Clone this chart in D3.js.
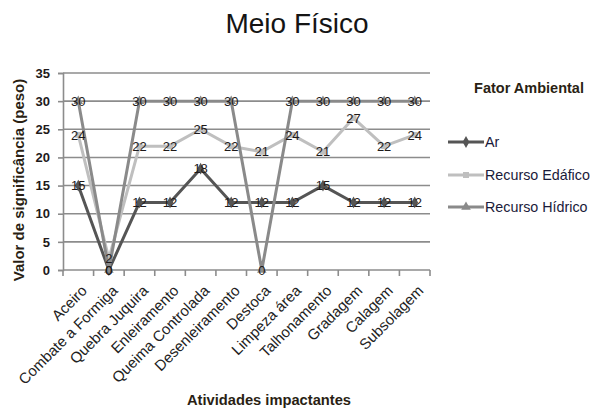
<!DOCTYPE html>
<html>
<head>
<meta charset="utf-8">
<script src="https://cdn.jsdelivr.net/npm/d3@7"></script>
<style>
  body { margin: 0; background: #fff; }
  svg { display: block; font-family: "Liberation Sans", Arial, sans-serif; }
</style>
</head>
<body>
<svg id="chart" width="595" height="409"></svg>
<script>
// Atividades avaliadas
const categories = ["Aceiro", "Combate a Formiga", "Quebra Juquira", "Enleiramento",
  "Queima Controlada", "Desenleiramento", "Destoca", "Limpeza área",
  "Talhonamento", "Gradagem", "Calagem", "Subsolagem"];

// Valor de significância por fator ambiental
const ar =            [15, 0, 12, 12, 18, 12, 12, 12, 15, 12, 12, 12];
const recursoEdafico = [24, 2, 22, 22, 25, 22, 21, 24, 21, 27, 22, 24];
const recursoHidrico = [30, 0, 30, 30, 30, 30, 0, 30, 30, 30, 30, 30];

const yTicks = [0, 5, 10, 15, 20, 25, 30, 35];

const series = [
  { name: "Ar", values: ar, color: "#555555", marker: "diamond" },
  { name: "Recurso Edáfico", values: recursoEdafico, color: "#bfbfbf", marker: "square" },
  { name: "Recurso Hídrico", values: recursoHidrico, color: "#8a8a8a", marker: "triangle" }
];

const svg = d3.select("#chart");
const plotLeft = 63, plotRight = 430, plotTop = 73, plotBottom = 270;

const x = d3.scaleBand().domain(categories).range([plotLeft, plotRight]);
const y = d3.scaleLinear().domain([0, 35]).range([plotBottom, plotTop]);
const cx = d => x(d) + x.bandwidth() / 2;

const textColor = "#1e1a1a";

// Title
svg.append("text")
  .attr("x", 297).attr("y", 33)
  .attr("text-anchor", "middle")
  .attr("font-size", 28)
  .attr("fill", "#141414")
  .text("Meio Físico");

// Horizontal gridlines
svg.append("g")
  .selectAll("line")
  .data(yTicks.filter(t => t > 0))
  .join("line")
  .attr("x1", plotLeft).attr("x2", plotRight)
  .attr("y1", d => y(d)).attr("y2", d => y(d))
  .attr("stroke", "#8c8c8c").attr("stroke-width", 1.6);

// Y axis
const yAxis = svg.append("g")
  .attr("transform", `translate(${plotLeft},0)`)
  .call(d3.axisLeft(y).tickValues(yTicks).tickSize(5).tickPadding(8));
yAxis.select(".domain").attr("stroke", "#8c8c8c").attr("stroke-width", 1.6);
yAxis.selectAll(".tick line").attr("stroke", "#8c8c8c").attr("stroke-width", 1.6);
yAxis.selectAll(".tick text")
  .attr("font-size", 13).attr("font-family", "Liberation Sans, Arial, sans-serif")
  .attr("font-weight", "bold").attr("fill", textColor);

// X axis with ticks at category boundaries
const xAxisG = svg.append("g").attr("transform", `translate(0,${plotBottom})`);
xAxisG.append("line")
  .attr("x1", plotLeft).attr("x2", plotRight)
  .attr("stroke", "#8c8c8c").attr("stroke-width", 1.6);
const bounds = categories.map(c => x(c)).concat([plotRight]);
xAxisG.selectAll("line.tk")
  .data(bounds)
  .join("line").attr("class", "tk")
  .attr("x1", d => d).attr("x2", d => d)
  .attr("y1", 0).attr("y2", 6)
  .attr("stroke", "#8c8c8c").attr("stroke-width", 1.6);
xAxisG.selectAll("text")
  .data(categories)
  .join("text")
  .attr("transform", d => `translate(${cx(d) + 6},18) rotate(-45)`)
  .attr("text-anchor", "end")
  .attr("dy", "0.35em")
  .attr("font-size", 15)
  .attr("fill", "#222")
  .text(d => d);

// Axis titles
svg.append("text")
  .attr("transform", "translate(24,180) rotate(-90)")
  .attr("text-anchor", "middle")
  .attr("font-size", 15).attr("font-weight", "bold")
  .attr("fill", "#2a1f14")
  .text("Valor de significância (peso)");

svg.append("text")
  .attr("x", 269).attr("y", 405)
  .attr("text-anchor", "middle")
  .attr("font-size", 14.7).attr("font-weight", "bold")
  .attr("fill", "#2a1f14")
  .text("Atividades impactantes");

// Lines
const line = d3.line().x((d, i) => cx(categories[i])).y(d => y(d));

function markerPath(type) {
  if (type === "diamond") return d3.symbol(d3.symbolDiamond, 40)();
  if (type === "square") return d3.symbol(d3.symbolSquare, 36)();
  return d3.symbol(d3.symbolTriangle, 40)();
}

series.forEach(s => {
  svg.append("path")
    .datum(s.values)
    .attr("fill", "none")
    .attr("stroke", s.color)
    .attr("stroke-width", 3)
    .attr("stroke-linejoin", "round")
    .attr("d", line);
  svg.append("g").selectAll("path")
    .data(s.values)
    .join("path")
    .attr("transform", (d, i) => `translate(${cx(categories[i])},${y(d)})`)
    .attr("d", markerPath(s.marker))
    .attr("fill", s.color);
});

// Data labels
series.forEach(s => {
  svg.append("g").selectAll("text")
    .data(s.values)
    .join("text")
    .attr("x", (d, i) => cx(categories[i]))
    .attr("y", d => y(d))
    .attr("dy", "0.36em")
    .attr("text-anchor", "middle")
    .attr("font-size", 13)
    .attr("fill", textColor)
    .text(d => d);
});

// Legend
const legend = svg.append("g");
legend.append("text")
  .attr("x", 529).attr("y", 93)
  .attr("text-anchor", "middle")
  .attr("font-size", 14.5).attr("font-weight", "bold")
  .attr("fill", "#2a1f14")
  .text("Fator Ambiental");

const legendY = [142, 175, 207];
series.forEach((s, i) => {
  const g = legend.append("g").attr("transform", `translate(0,${legendY[i]})`);
  g.append("line")
    .attr("x1", 448).attr("x2", 484)
    .attr("stroke", s.color).attr("stroke-width", 3);
  g.append("path")
    .attr("transform", "translate(466,0)")
    .attr("d", markerPath(s.marker))
    .attr("fill", s.color);
  g.append("text")
    .attr("x", 485).attr("dy", "0.35em")
    .attr("font-size", 14.3)
    .attr("fill", "#1a1a3a")
    .text(s.name);
});
</script>
</body>
</html>
